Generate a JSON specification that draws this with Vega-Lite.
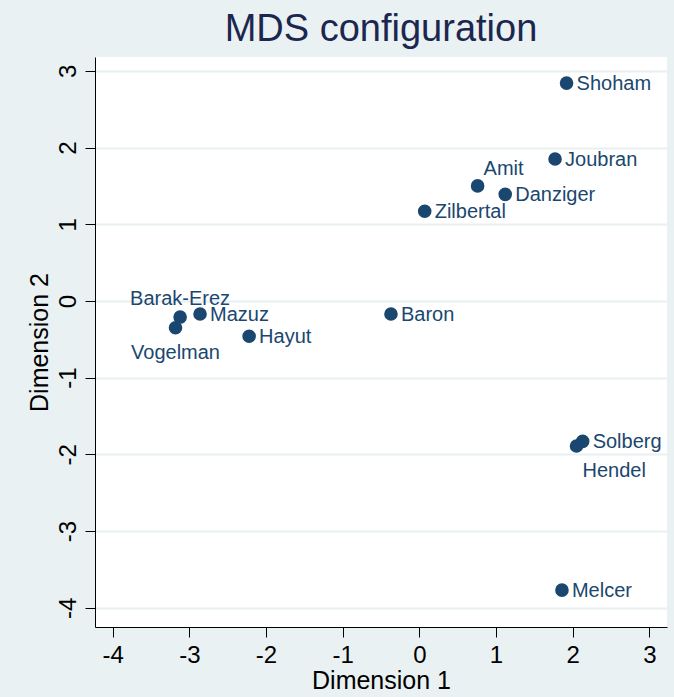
{
  "$schema": "https://vega.github.io/schema/vega-lite/v6.json",
  "width": 572,
  "height": 570,
  "autosize": {"type": "none"},
  "padding": {"left": 95, "top": 57, "right": 7, "bottom": 70},
  "background": "#EAF1F3",
  "config": {"view": {"fill": "white", "stroke": null}, "font": "Liberation Sans"},
  "title": {"text": "MDS configuration", "fontSize": 38, "fontWeight": "normal", "color": "#1c2750", "font": "Liberation Sans", "offset": 8, "anchor": "middle"},
  "data": {"values": [
    {"name": "Shoham", "d1": 1.92, "d2": 2.84},
    {"name": "Joubran", "d1": 1.77, "d2": 1.85},
    {"name": "Amit", "d1": 0.76, "d2": 1.50},
    {"name": "Danziger", "d1": 1.12, "d2": 1.39},
    {"name": "Zilbertal", "d1": 0.07, "d2": 1.17},
    {"name": "Baron", "d1": -0.37, "d2": -0.17},
    {"name": "Barak-Erez", "d1": -3.12, "d2": -0.21},
    {"name": "Mazuz", "d1": -2.86, "d2": -0.17},
    {"name": "Vogelman", "d1": -3.18, "d2": -0.35},
    {"name": "Hayut", "d1": -2.22, "d2": -0.46},
    {"name": "Solberg", "d1": 2.13, "d2": -1.83},
    {"name": "Hendel", "d1": 2.05, "d2": -1.89},
    {"name": "Melcer", "d1": 1.86, "d2": -3.77}
  ]},
  "encoding": {
    "x": {"field": "d1", "type": "quantitative", "scale": {"domain": [-4.23, 3.23], "nice": false, "zero": false},
      "axis": {"title": "Dimension 1", "values": [-4, -3, -2, -1, 0, 1, 2, 3], "labelExpr": "'' + datum.value", "grid": false, "domainColor": "black", "tickColor": "black", "tickSize": 10, "labelFontSize": 24, "labelColor": "black", "labelPadding": 6, "titleFontSize": 25, "titleFontWeight": "normal", "titleColor": "black", "titlePadding": 1}},
    "y": {"field": "d2", "type": "quantitative", "scale": {"domain": [-4.25, 3.18], "nice": false, "zero": false},
      "axis": {"title": "Dimension 2", "values": [-4, -3, -2, -1, 0, 1, 2, 3], "labelExpr": "'' + datum.value", "grid": true, "gridColor": "#E8F0F2", "gridWidth": 2, "domainColor": "black", "tickColor": "black", "tickSize": 10, "labelFontSize": 24, "labelColor": "black", "labelAngle": -90, "labelAlign": "center", "labelBaseline": "bottom", "labelPadding": 5, "titleFontSize": 25, "titleFontWeight": "normal", "titleColor": "black", "titlePadding": 4}}
  },
  "layer": [
    {"mark": {"type": "circle", "size": 185, "opacity": 1, "color": "#1a476f"}},
    {"transform": [{"filter": {"not": {"field": "name", "oneOf": ["Amit", "Barak-Erez", "Vogelman", "Hendel"]}}}],
      "mark": {"type": "text", "align": "left", "baseline": "middle", "dx": 10, "dy": 1, "fontSize": 20, "color": "#1a476f"},
      "encoding": {"text": {"field": "name"}}},
    {"transform": [{"filter": {"field": "name", "equal": "Amit"}}],
      "mark": {"type": "text", "align": "left", "baseline": "middle", "dx": 6, "dy": -17, "fontSize": 20, "color": "#1a476f"},
      "encoding": {"text": {"field": "name"}}},
    {"transform": [{"filter": {"field": "name", "equal": "Barak-Erez"}}],
      "mark": {"type": "text", "align": "center", "baseline": "middle", "dx": 0, "dy": -18, "fontSize": 20, "color": "#1a476f"},
      "encoding": {"text": {"field": "name"}}},
    {"transform": [{"filter": {"field": "name", "equal": "Vogelman"}}],
      "mark": {"type": "text", "align": "center", "baseline": "middle", "dx": 0, "dy": 25, "fontSize": 20, "color": "#1a476f"},
      "encoding": {"text": {"field": "name"}}},
    {"transform": [{"filter": {"field": "name", "equal": "Hendel"}}],
      "mark": {"type": "text", "align": "left", "baseline": "middle", "dx": 6, "dy": 25, "fontSize": 20, "color": "#1a476f"},
      "encoding": {"text": {"field": "name"}}}
  ]
}
